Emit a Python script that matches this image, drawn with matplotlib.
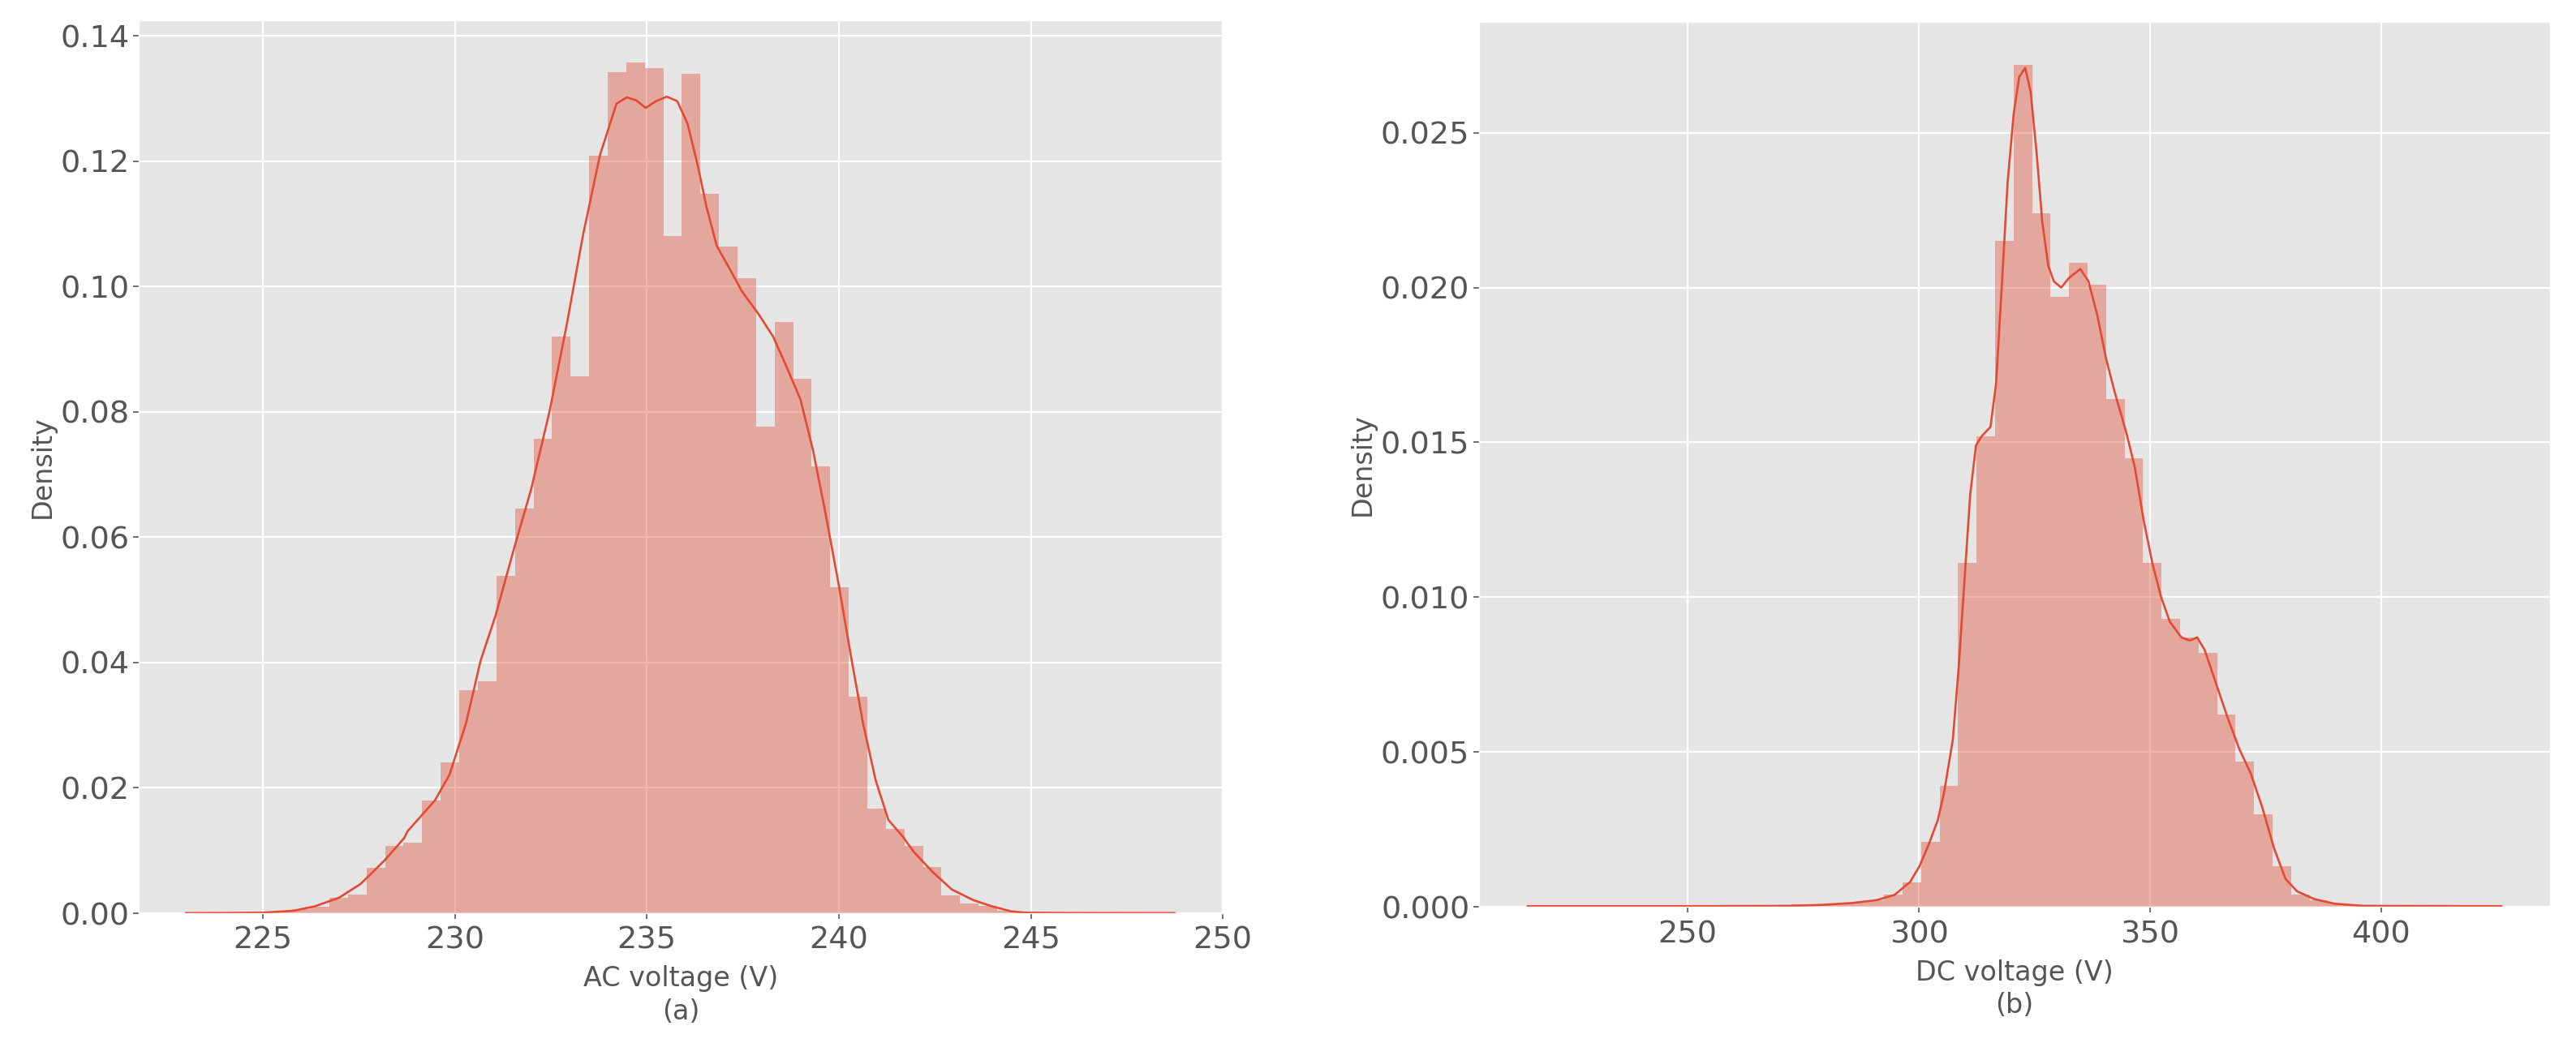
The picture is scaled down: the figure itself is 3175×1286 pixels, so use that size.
import matplotlib
matplotlib.use("Agg")
import matplotlib.pyplot as plt
import numpy as np

plt.style.use("ggplot")

# AC voltage histogram (density per bin), bins of ~0.483 V
acRange = [223.0, 248.75]
acFirstEdge = 222.87
acBinWidth = 0.483
acDensity = [0.0002, 0.0002, 0.0002, 0.0002, 0.0003, 0.0004, 0.0006, 0.0011, 0.0024, 0.0030,
             0.0072, 0.0107, 0.0113, 0.0180, 0.0241, 0.0356, 0.0370, 0.0538, 0.0646, 0.0757,
             0.0920, 0.0857, 0.1209, 0.1342, 0.1357, 0.1349, 0.1081, 0.1340, 0.1148, 0.1064,
             0.1014, 0.0777, 0.0944, 0.0853, 0.0713, 0.0520, 0.0346, 0.0167, 0.0135, 0.0107,
             0.0074, 0.0029, 0.0016, 0.0012, 0.0004, 0.0003, 0.0003, 0.0003, 0.0003, 0.0003,
             0.0003, 0.0003, 0.0003, 0.0003]

# AC kde curve
acKdeX = [223.0, 224.0, 225.0, 225.8, 226.35, 226.99, 227.55, 228.18, 228.68, 228.77, 229.48,
          229.86, 230.29, 230.67, 231.06, 231.55, 231.98, 232.47, 232.91, 233.34, 233.78,
          234.21, 234.48, 234.73, 234.97, 235.24, 235.52, 235.79, 236.06, 236.33, 236.55,
          236.82, 237.15, 237.48, 237.91, 238.29, 238.56, 239.00, 239.33, 239.65, 239.98,
          240.31, 240.63, 240.96, 241.29, 241.67, 241.95, 242.44, 242.94, 243.5, 243.99,
          244.49, 244.84, 246.0, 248.75]
acKdeY = [0.0, 0.00003, 0.0001, 0.0004, 0.0011, 0.0025, 0.0047, 0.0085, 0.0120, 0.0131, 0.0180,
          0.0221, 0.0303, 0.0403, 0.0475, 0.0584, 0.0675, 0.0802, 0.0938, 0.1083, 0.1210,
          0.1292, 0.1302, 0.1297, 0.1285, 0.1296, 0.1303, 0.1296, 0.1260, 0.1192, 0.1128,
          0.1065, 0.1029, 0.0992, 0.0956, 0.0920, 0.0883, 0.0820, 0.0738, 0.0639, 0.0530,
          0.0412, 0.0303, 0.0212, 0.0149, 0.0122, 0.0098, 0.0066, 0.0038, 0.0021, 0.0011,
          0.0003, 0.0001, 0.00002, 0.0]

# DC voltage histogram, bins of 4 V
dcRange = [215.4, 426.0]
dcFirstEdge = 212.5
dcBinWidth = 4.0
dcDensity = [0.00002, 0.00002, 0.00002, 0.00002, 0.00002, 0.00002, 0.00002, 0.00002, 0.00002, 0.00002,
             0.00002, 0.00003, 0.00003, 0.00004, 0.00005, 0.00008, 0.00008, 0.0001, 0.00013, 0.0002,
             0.0004, 0.0008, 0.0021, 0.0039, 0.0111, 0.0152, 0.0215, 0.0272, 0.0224, 0.0197,
             0.0208, 0.0201, 0.0164, 0.0145, 0.0111, 0.0093, 0.0087, 0.0082, 0.0062, 0.0047,
             0.0030, 0.0013, 0.0004, 0.0002, 0.0001, 0.00005, 0.00002, 0.00002, 0.00002, 0.00002,
             0.00002, 0.00002, 0.00002, 0.00002]

dcKdeX = [215.4, 250.0, 272.0, 278.7, 285.4, 290.7, 294.7, 298.1, 300.1, 302.1, 304.1, 305.47,
          307.35, 308.6, 309.85, 311.1, 312.35, 313.6, 315.5, 316.7, 318.0, 319.2, 320.5,
          321.7, 323.0, 324.2, 325.5, 326.7, 328.0, 329.2, 330.8, 332.4, 334.9, 336.7, 338.6,
          340.5, 342.4, 344.9, 346.7, 348.6, 350.5, 352.4, 354.3, 356.8, 358.6, 360.2, 361.8,
          364.3, 366.8, 369.3, 371.8, 374.3, 376.8, 379.3, 381.8, 385.5, 389.9, 396.0, 426.0]
dcKdeY = [0.00002, 0.00002, 0.00003, 0.00006, 0.00012, 0.00021, 0.00038, 0.0008, 0.0013, 0.0020,
          0.0028, 0.0037, 0.0054, 0.0077, 0.0105, 0.0133, 0.0149, 0.0152, 0.0155, 0.0169,
          0.0202, 0.0234, 0.0256, 0.0268, 0.0271, 0.0263, 0.0243, 0.0221, 0.0207, 0.0202,
          0.0200, 0.0203, 0.0206, 0.0202, 0.0191, 0.0177, 0.0166, 0.0153, 0.0142, 0.0125,
          0.0111, 0.0100, 0.0092, 0.0087, 0.0086, 0.0087, 0.0083, 0.0072, 0.0061, 0.0051,
          0.0043, 0.0032, 0.0019, 0.0009, 0.0005, 0.00025, 0.0001, 0.00003, 0.00002]

acTicks = [225, 230, 235, 240, 245, 250]
dcTicks = [250, 300, 350, 400]

histColor = "#E24A33"
textColor = "#555555"


def drawDist(ax, firstEdge, binWidth, dataRange, density, kdeX, kdeY):
    edges = firstEdge + binWidth * np.arange(len(density) + 1)
    edges = np.clip(edges, dataRange[0], dataRange[1])
    ax.bar(edges[:-1], density, width=np.diff(edges), align="edge",
           color=histColor, alpha=0.4, linewidth=0)
    ax.plot(kdeX, kdeY, color=histColor, linewidth=1.9)
    ax.grid(True, color="white", linewidth=1.6)
    ax.set_axisbelow(True)
    ax.tick_params(labelsize=27.5, colors=textColor, length=5, width=1.2)
    ax.tick_params(axis="x", pad=6.5)
    ax.set_ylabel("Density", fontsize=24, color=textColor)


fig = plt.figure(figsize=(31.75, 12.86), dpi=100)

axA = fig.add_axes([0.0539, 0.1244, 0.4208, 0.8562])
drawDist(axA, acFirstEdge, acBinWidth, acRange, acDensity, acKdeX, acKdeY)
axA.set_xlim(221.77, 250.0)
axA.set_ylim(0, 0.1425)
axA.set_xticks(acTicks)
axA.set_yticks(np.arange(0, 0.141, 0.02))
axA.set_xlabel("AC voltage (V)\n(a)", fontsize=24, color=textColor,
               labelpad=9, linespacing=1.3)

axB = fig.add_axes([0.5742, 0.1306, 0.4157, 0.8484])
drawDist(axB, dcFirstEdge, dcBinWidth, dcRange, dcDensity, dcKdeX, dcKdeY)
axB.set_xlim(204.9, 436.5)
axB.set_ylim(0, 0.02858)
axB.set_xticks(dcTicks)
axB.set_yticks(np.arange(0, 0.0251, 0.005))
axB.set_xlabel("DC voltage (V)\n(b)", fontsize=24, color=textColor,
               labelpad=9, linespacing=1.3)

fig.savefig("out.png", dpi=100, facecolor="white")
